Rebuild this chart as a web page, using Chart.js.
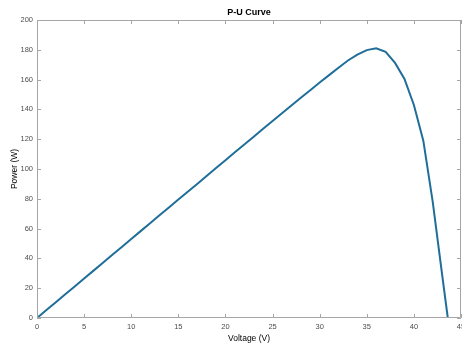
<!DOCTYPE html>
<html><head><meta charset="utf-8">
<script src="https://cdn.jsdelivr.net/npm/chart.js@4/dist/chart.umd.min.js"></script>
<style>html,body{margin:0;padding:0;background:#fff;}#c{display:block;}</style>
</head><body>
<canvas id="c" width="462" height="345"></canvas>
<script>
const voltage = [0,1,2,3,4,5,6,7,8,9,10,11,12,13,14,15,16,17,18,19,20,21,22,23,24,25,26,27,28,29,30,31,32,33,34,35,36,37,38,39,40,41,42,43,43.6];
const power = [0,5.3,10.6,15.9,21.2,26.5,31.8,37.1,42.4,47.7,53,58.3,63.6,68.9,74.2,79.5,84.8,90,95.3,100.6,105.9,111.2,116.4,121.7,127,132.2,137.4,142.6,147.8,152.9,158,163,168,172.8,176.8,179.8,181,178.6,171.2,160.4,143,119,78,29,0];
const xTicks = [0,5,10,15,20,25,30,35,40,45];
const yTicks = [0,20,40,60,80,100,120,140,160,180,200];
const titleText = 'P-U Curve';
const xLabel = 'Voltage (V)';
const yLabel = 'Power (W)';

const AX = '#a6a6a6';
const TXT = '#4d4d4d';
const FONT = 'Liberation Sans, Arial, sans-serif';

const boxPlugin = {
  id: 'box',
  afterDraw(chart) {
    const {ctx, chartArea: a, scales: {x, y}} = chart;
    ctx.save();
    ctx.strokeStyle = AX;
    ctx.lineWidth = 1;
    ctx.beginPath();
    ctx.rect(a.left + 0.5, a.top + 0.5, a.right - a.left - 1, a.bottom - a.top - 1);
    ctx.stroke();
    ctx.beginPath();
    const L = 4;
    xTicks.forEach(v => {
      const px = Math.round(x.getPixelForValue(v)) + 0.5;
      ctx.moveTo(px, a.bottom); ctx.lineTo(px, a.bottom - L);
      ctx.moveTo(px, a.top); ctx.lineTo(px, a.top + L);
    });
    yTicks.forEach(v => {
      const py = Math.round(y.getPixelForValue(v)) + 0.5;
      ctx.moveTo(a.left, py); ctx.lineTo(a.left + L, py);
      ctx.moveTo(a.right, py); ctx.lineTo(a.right - L, py);
    });
    ctx.stroke();
    ctx.fillStyle = '#000';
    ctx.font = 'bold 9px ' + FONT;
    ctx.textAlign = 'center';
    ctx.textBaseline = 'middle';
    ctx.fillText(titleText, (a.left + a.right) / 2, 13);
    ctx.restore();
  }
};

new Chart(document.getElementById('c'), {
  type: 'line',
  data: {
    datasets: [{
      data: voltage.map((v, i) => ({x: v, y: power[i]})),
      borderColor: '#1f6e99',
      borderWidth: 2,
      pointRadius: 0,
      tension: 0,
      fill: false
    }]
  },
  options: {
    responsive: false,
    animation: false,
    layout: {padding: {top: 20, right: 1, left: 0, bottom: 0}},
    plugins: {legend: {display: false}, tooltip: {enabled: false}, title: {display: false}},
    scales: {
      x: {
        type: 'linear', min: 0, max: 45,
        afterBuildTicks(s) { s.ticks = xTicks.map(v => ({value: v})); },
        afterFit(s) { s.height = 27; s.paddingRight = 0; s.paddingLeft = 0; },
        grid: {display: false, drawTicks: false},
        border: {display: false},
        ticks: {color: TXT, font: {size: 7.5, family: FONT}, padding: 4, maxRotation: 0, autoSkip: false},
        title: {display: true, text: xLabel, color: '#000', font: {size: 8.5, family: FONT}, padding: {top: 0, bottom: 1}}
      },
      y: {
        type: 'linear', min: 0, max: 200,
        afterBuildTicks(s) { s.ticks = yTicks.map(v => ({value: v})); },
        afterFit(s) { s.width = 37; s.paddingTop = 0; s.paddingBottom = 0; },
        grid: {display: false, drawTicks: false},
        border: {display: false},
        ticks: {color: TXT, font: {size: 7.5, family: FONT}, padding: 4, autoSkip: false},
        title: {display: true, text: yLabel, color: '#000', font: {size: 8.5, family: FONT}, padding: {top: 10, bottom: 0}}
      }
    }
  },
  plugins: [boxPlugin]
});
</script>
</body></html>
